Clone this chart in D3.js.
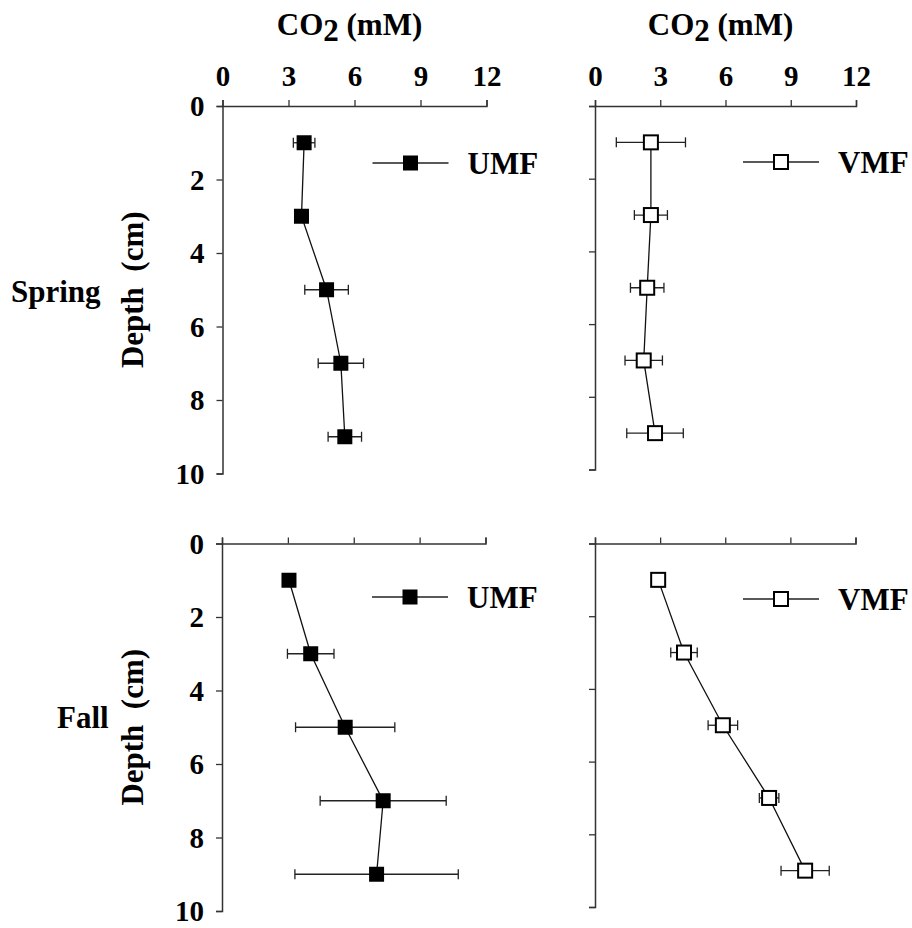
<!DOCTYPE html>
<html>
<head>
<meta charset="utf-8">
<script src="https://cdn.jsdelivr.net/npm/d3@7"></script>
<style>
  body { margin: 0; background: #fff; }
</style>
</head>
<body>
<div class="chart"></div>
<script>
const depths = [1, 3, 5, 7, 9];
const xTicks = [0, 3, 6, 9, 12];
const yTicks = [0, 2, 4, 6, 8, 10];

const springUMF = [3.71, 3.59, 4.73, 5.38, 5.56];
const springUMFErr = [0.49, 0.3, 0.99, 1.03, 0.76];
const springVMF = [2.57, 2.57, 2.40, 2.24, 2.76];
const springVMFErr = [1.59, 0.76, 0.77, 0.86, 1.30];
const fallUMF = [3.05, 4.04, 5.61, 7.34, 7.04];
const fallUMFErr = [0.2, 1.06, 2.26, 2.87, 3.72];
const fallVMF = [2.91, 4.10, 5.89, 8.02, 9.68];
const fallVMFErr = [0.2, 0.61, 0.68, 0.45, 1.11];

const FONT = "'Liberation Serif', 'Times New Roman', Times, 'DejaVu Serif', serif";
const width = 912, height = 928;
const svg = d3.select(".chart").append("svg")
  .attr("width", width)
  .attr("height", height)
  .attr("font-family", FONT)
  .attr("font-weight", "bold");

// panel layout: x0/x1 for CO2 0..12, y0/y1 for depth 0..10
const panels = [
  {name: "UMF", vals: springUMF, err: springUMFErr, filled: true, x0: 222.5, x1: 486.5, y0: 106, y1: 473.5, xLabels: true, yLabels: true, legY: 163, season: "Spring"},
  {name: "VMF", vals: springVMF, err: springVMFErr, filled: false, x0: 595, x1: 856, y0: 106, y1: 469.5, xLabels: true, yLabels: false, legY: 162},
  {name: "UMF", vals: fallUMF, err: fallUMFErr, filled: true, x0: 222, x1: 485.5, y0: 543.5, y1: 911, xLabels: false, yLabels: true, legY: 597, season: "Fall"},
  {name: "VMF", vals: fallVMF, err: fallVMFErr, filled: false, x0: 595, x1: 855.5, y0: 543.5, y1: 907, xLabels: false, yLabels: false, legY: 599}
];

const axisColor = "#333";
const markSize = 15;

panels.forEach(p => {
  const x = d3.scaleLinear().domain([0, 12]).range([p.x0, p.x1]);
  const y = d3.scaleLinear().domain([0, 10]).range([p.y0, p.y1]);
  const g = svg.append("g");

  // top axis
  const xAxis = g.append("g")
    .attr("transform", `translate(0,${p.y0})`)
    .call(d3.axisTop(x).tickValues(xTicks).tickSize(6).tickSizeOuter(6).tickPadding(14)
      .tickFormat(p.xLabels ? d3.format("d") : ""));
  xAxis.attr("font-family", FONT).attr("font-size", 29);
  xAxis.select(".domain").attr("stroke", axisColor).attr("stroke-width", 1.5);
  xAxis.selectAll(".tick line").attr("stroke", axisColor).attr("stroke-width", 1.3);
  xAxis.selectAll(".tick text").attr("fill", "#000");

  // left axis
  const yAxis = g.append("g")
    .attr("transform", `translate(${p.x0},0)`)
    .call(d3.axisLeft(y).tickValues(yTicks).tickSize(6).tickSizeOuter(6).tickPadding(12)
      .tickFormat(p.yLabels ? d3.format("d") : ""));
  yAxis.attr("font-family", FONT).attr("font-size", 29);
  yAxis.select(".domain").attr("stroke", axisColor).attr("stroke-width", 1.5);
  yAxis.selectAll(".tick line").attr("stroke", axisColor).attr("stroke-width", 1.3);
  yAxis.selectAll(".tick text").attr("fill", "#000").attr("dy", "0.34em");

  if (p.xLabels) {
    const t = g.append("text")
      .attr("x", (p.x0 + p.x1) / 2 - 5)
      .attr("y", 35)
      .attr("text-anchor", "middle")
      .attr("font-size", 31);
    t.append("tspan").text("CO");
    t.append("tspan").attr("dy", 6).text("2");
    t.append("tspan").attr("dy", -6).text(" (mM)");
  }

  if (p.yLabels) {
    const cy = y(5);
    g.append("text")
      .attr("transform", `translate(143,${cy}) rotate(-90)`)
      .attr("text-anchor", "middle")
      .attr("font-size", 31)
      .attr("xml:space", "preserve")
      .text("Depth  (cm)");
    g.append("text")
      .attr("x", p.season === "Spring" ? 11 : 57)
      .attr("y", p.season === "Spring" ? 302 : 728)
      .attr("font-size", 31)
      .text(p.season);
  }

  const pts = depths.map((d, i) => ({d, v: p.vals[i], e: p.err[i]}));

  // connecting line
  g.append("path")
    .datum(pts)
    .attr("fill", "none")
    .attr("stroke", "#111")
    .attr("stroke-width", 1.3)
    .attr("d", d3.line().x(d => x(d.v)).y(d => y(d.d)));

  // error bars
  const eb = g.append("g").attr("stroke", "#222").attr("stroke-width", 1.3);
  pts.forEach(d => {
    const ya = y(d.d);
    eb.append("line").attr("x1", x(d.v - d.e)).attr("x2", x(d.v + d.e)).attr("y1", ya).attr("y2", ya);
    [d.v - d.e, d.v + d.e].forEach(v => {
      eb.append("line").attr("x1", x(v)).attr("x2", x(v)).attr("y1", ya - 5).attr("y2", ya + 5);
    });
  });

  // markers
  const s = p.filled ? markSize : markSize - 1;
  g.append("g").selectAll("rect")
    .data(pts)
    .join("rect")
    .attr("x", d => x(d.v) - s / 2)
    .attr("y", d => y(d.d) - s / 2)
    .attr("width", s)
    .attr("height", s)
    .attr("fill", p.filled ? "#000" : "#fff")
    .attr("stroke", "#000")
    .attr("stroke-width", p.filled ? 0 : 2);

  // legend
  const lx = p.x0 + (p.filled ? 150 : 148);
  g.append("line")
    .attr("x1", lx).attr("x2", lx + 76)
    .attr("y1", p.legY).attr("y2", p.legY)
    .attr("stroke", "#222").attr("stroke-width", 1.3);
  g.append("rect")
    .attr("x", lx + 38 - s / 2).attr("y", p.legY - s / 2)
    .attr("width", s).attr("height", s)
    .attr("fill", p.filled ? "#000" : "#fff")
    .attr("stroke", "#000")
    .attr("stroke-width", p.filled ? 0 : 2);
  g.append("text")
    .attr("x", lx + 95)
    .attr("y", p.legY + 11)
    .attr("font-size", 31)
    .text(p.name);
});
</script>
</body>
</html>
